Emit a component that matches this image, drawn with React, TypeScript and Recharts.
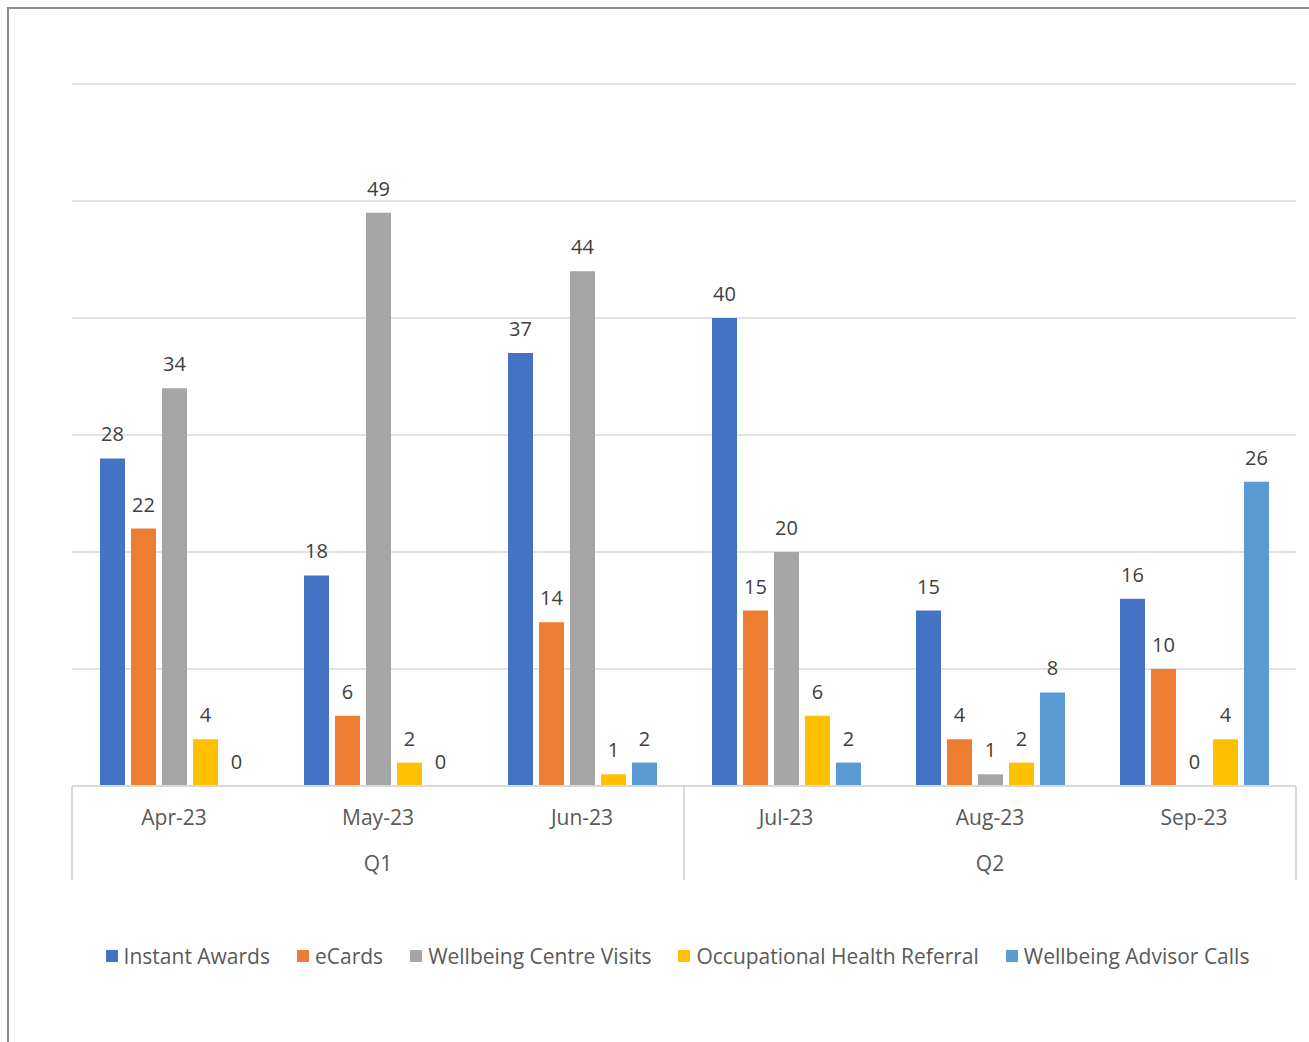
import React from "react";
import {
  BarChart,
  Bar,
  XAxis,
  YAxis,
  CartesianGrid,
  LabelList,
} from "recharts";

const months = ["Apr-23", "May-23", "Jun-23", "Jul-23", "Aug-23", "Sep-23"];
const quarters = ["Q1", "Q1", "Q1", "Q2", "Q2", "Q2"];
const instantAwards = [28, 18, 37, 40, 15, 16];
const eCards = [22, 6, 14, 15, 4, 10];
const centreVisits = [34, 49, 44, 20, 1, 0];
const ohReferral = [4, 2, 1, 6, 2, 4];
const advisorCalls = [0, 0, 2, 2, 8, 26];
const yTicks = [0, 10, 20, 30, 40, 50, 60];

const series = [
  { key: "instant", name: "Instant Awards", color: "#4472C4" },
  { key: "ecards", name: "eCards", color: "#ED7D31" },
  { key: "visits", name: "Wellbeing Centre Visits", color: "#A5A5A5" },
  { key: "oh", name: "Occupational Health Referral", color: "#FFC000" },
  { key: "calls", name: "Wellbeing Advisor Calls", color: "#5B9BD5" },
];

const data = months.map((m, i) => ({
  month: m,
  quarter: quarters[i],
  instant: instantAwards[i],
  ecards: eCards[i],
  visits: centreVisits[i],
  oh: ohReferral[i],
  calls: advisorCalls[i],
}));

const FONT = "'Open Sans', sans-serif";
const BAND = 204;
const AXIS_Y = 786;

function MonthTick(props: any) {
  const { x, payload, index } = props;
  const i = index ?? payload.index;
  const half = BAND / 2;
  return (
    <g>
      <text
        x={x}
        y={AXIS_Y + 31}
        textAnchor="middle"
        dominantBaseline="central"
        fill="#595959"
        fontSize={21}
        fontFamily={FONT}
      >
        {payload.value}
      </text>
      {(i === 1 || i === 4) && (
        <text
          x={x}
          y={AXIS_Y + 77}
          textAnchor="middle"
          dominantBaseline="central"
          fill="#595959"
          fontSize={21}
          fontFamily={FONT}
        >
          {quarters[i]}
        </text>
      )}
      {(i === 0 || i === 3) && (
        <line x1={x - half} x2={x - half} y1={AXIS_Y} y2={AXIS_Y + 94} stroke="#d9d9d9" strokeWidth={2} />
      )}
      {i === 5 && (
        <line x1={x + half} x2={x + half} y1={AXIS_Y} y2={AXIS_Y + 94} stroke="#d9d9d9" strokeWidth={2} />
      )}
    </g>
  );
}

function ValueLabel(props: any) {
  const { x, y, width, value } = props;
  return (
    <text
      x={x + width / 2}
      y={y - 17}
      textAnchor="middle"
      fill="#404040"
      fontSize={20}
      fontFamily={FONT}
    >
      {value}
    </text>
  );
}

export default function App() {
  return (
    <div style={{ position: "fixed", left: 0, top: 0, width: 1309, height: 1042, background: "#fff" }}>
      <div
        style={{
          position: "absolute",
          left: 7,
          top: 7,
          right: 0,
          bottom: 0,
          borderLeft: "2px solid #8c8c8c",
          borderTop: "2px solid #8c8c8c",
        }}
      />
      <div style={{ position: "absolute", left: 0, top: 0 }}>
        <BarChart
          width={1309}
          height={1042}
          data={data}
          margin={{ top: 84, right: 13, left: 72, bottom: 162 }}
          barCategoryGap={27}
          barGap={6}
        >
          <CartesianGrid horizontal vertical={false} stroke="#d9d9d9" strokeWidth={1.5} />
          <YAxis hide domain={[0, 60]} ticks={yTicks} />
          <XAxis
            dataKey="month"
            height={94}
            axisLine={{ stroke: "#d9d9d9", strokeWidth: 2 }}
            tickLine={false}
            interval={0}
            tick={(p: any) => <MonthTick {...p} />}
          />
          {series.map((s) => (
            <Bar
              key={s.key}
              dataKey={s.key}
              name={s.name}
              fill={s.color}
              barSize={25}
              minPointSize={0.01}
              isAnimationActive={false}
            >
              <LabelList dataKey={s.key} content={(p: any) => <ValueLabel {...p} />} />
            </Bar>
          ))}
        </BarChart>
      </div>
      <div
        style={{
          position: "absolute",
          left: 0,
          width: 1309,
          top: 942,
          display: "flex",
          justifyContent: "center",
          gap: 27,
          paddingLeft: 46,
          boxSizing: "border-box",
          fontFamily: FONT,
          fontSize: 21,
          color: "#595959",
          whiteSpace: "nowrap",
        }}
      >
        {series.map((s) => (
          <div key={s.key} style={{ display: "flex", alignItems: "center" }}>
            <span
              style={{
                display: "inline-block",
                width: 12,
                height: 12,
                background: s.color,
                marginRight: 6,
              }}
            />
            {s.name}
          </div>
        ))}
      </div>
    </div>
  );
}
